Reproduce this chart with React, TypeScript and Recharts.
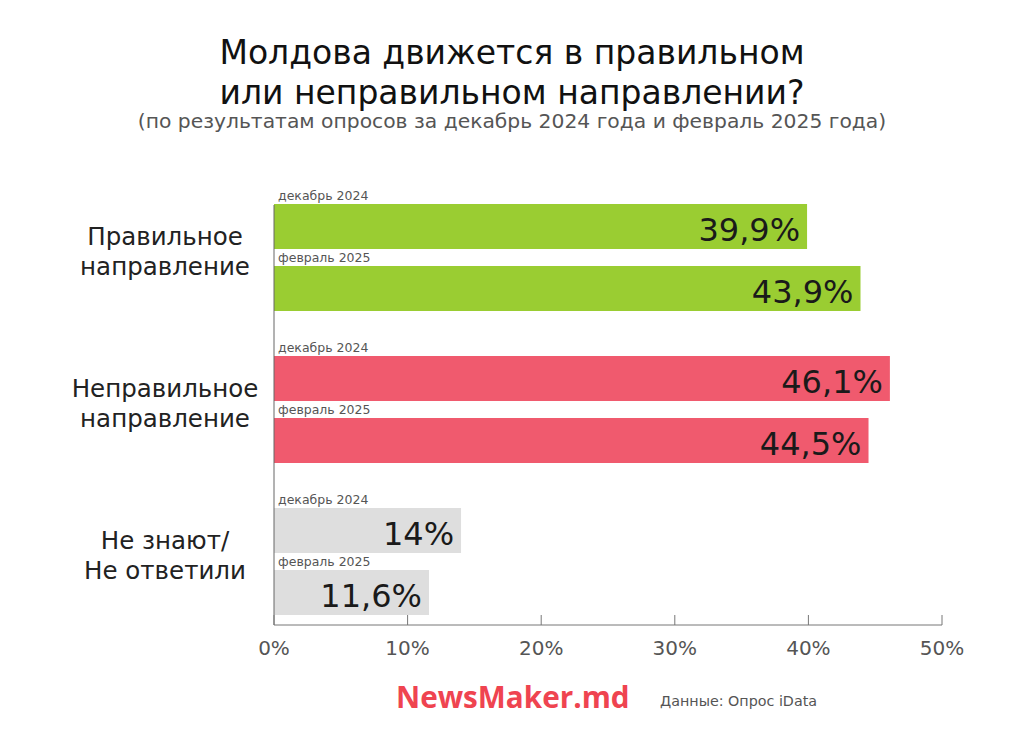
import { BarChart, Bar, XAxis, YAxis, Cell, LabelList } from 'recharts';

// data
const categories = ['Правильное направление', 'Неправильное направление', 'Не знают/ Не ответили'];
const categoryLines = [
  ['Правильное', 'направление'],
  ['Неправильное', 'направление'],
  ['Не знают/', 'Не ответили'],
];
const dec2024 = [39.9, 46.1, 14];
const feb2025 = [43.9, 44.5, 11.6];
const seriesNames = ['декабрь 2024', 'февраль 2025'];
const categoryColors = ['#9ACD32', '#F05A6E', '#DEDEDE'];
const xTicks = [0, 10, 20, 30, 40, 50];

const FONT = '"DejaVu Sans", sans-serif';

const data = categories.map((name, i) => ({
  name,
  lines: categoryLines[i],
  dec: dec2024[i],
  feb: feb2025[i],
}));

const fmt = (v: number) => String(v).replace('.', ',') + '%';

function CategoryTick(props: any) {
  const { x, y, payload } = props;
  const row = data.find(d => d.name === payload.value);
  const lines = row ? row.lines : [payload.value];
  return (
    <g>
      {lines.map((ln: string, i: number) => (
        <text
          key={i}
          x={x - 107}
          y={y - 12 + i * 30}
          textAnchor="middle"
          fontFamily={FONT}
          fontSize={24.5}
          fill="#222"
        >
          {ln}
        </text>
      ))}
    </g>
  );
}

function PercentTick(props: any) {
  const { x, y, payload } = props;
  return (
    <g>
      <line x1={x} x2={x} y1={y - 10} y2={y} stroke="#777" strokeWidth={1} />
      <text x={x} y={y + 30} textAnchor="middle" fontFamily={FONT} fontSize={20} fill="#555">
        {payload.value}%
      </text>
    </g>
  );
}

const seriesLabel = (name: string) => (props: any) => {
  const { x, y } = props;
  return (
    <text x={x + 4} y={y - 4} fontFamily={FONT} fontSize={12.5} fill="#555">
      {name}
    </text>
  );
};

const valueLabel = (props: any) => {
  const { x, y, width, height, value } = props;
  return (
    <text
      x={x + width - 7}
      y={y + height / 2 + 14}
      textAnchor="end"
      fontFamily={FONT}
      fontSize={32}
      fill="#1a1a1a"
    >
      {fmt(value)}
    </text>
  );
};

export default function App() {
  return (
    <div style={{ position: 'absolute', left: 0, top: 0, width: 1024, height: 737, background: '#fff' }}>
      <BarChart
        width={1024}
        height={737}
        data={data}
        layout="vertical"
        margin={{ top: 205, right: 82, bottom: 72, left: 0 }}
        barSize={45}
        barGap={17}
      >
        <XAxis
          type="number"
          domain={[0, 50]}
          ticks={xTicks}
          tickSize={0}
          tickMargin={0}
          height={40}
          axisLine={{ stroke: '#777' }}
          tickLine={false}
          tick={<PercentTick />}
        />
        <YAxis
          type="category"
          dataKey="name"
          width={274}
          padding={{ top: -24, bottom: -12 }}
          axisLine={{ stroke: '#666' }}
          tickLine={false}
          tickSize={0}
          tick={<CategoryTick />}
        />
        <Bar dataKey="dec" isAnimationActive={false}>
          {data.map((_, i) => (
            <Cell key={i} fill={categoryColors[i]} />
          ))}
          <LabelList dataKey="dec" content={seriesLabel(seriesNames[0])} />
          <LabelList dataKey="dec" content={valueLabel} />
        </Bar>
        <Bar dataKey="feb" isAnimationActive={false}>
          {data.map((_, i) => (
            <Cell key={i} fill={categoryColors[i]} />
          ))}
          <LabelList dataKey="feb" content={seriesLabel(seriesNames[1])} />
          <LabelList dataKey="feb" content={valueLabel} />
        </Bar>
      </BarChart>

      <svg
        width={1024}
        height={737}
        style={{ position: 'absolute', left: 0, top: 0, pointerEvents: 'none' }}
      >
        <text x={512} y={64} textAnchor="middle" fontFamily={FONT} fontSize={33} fill="#111">
          Молдова движется в правильном
        </text>
        <text x={512} y={104} textAnchor="middle" fontFamily={FONT} fontSize={33} fill="#111">
          или неправильном направлении?
        </text>
        <text x={512} y={128} textAnchor="middle" fontFamily={FONT} fontSize={20.3} fill="#555">
          (по результатам опросов за декабрь 2024 года и февраль 2025 года)
        </text>
        <text x={396} y={708} fontFamily='"Open Sans", sans-serif' fontWeight={700} fontSize={29.7} fill="#EF4450">
          NewsMaker.md
        </text>
        <text x={660} y={706} fontFamily={FONT} fontSize={14.3} fill="#555">
          Данные: Опрос iData
        </text>
      </svg>
    </div>
  );
}
